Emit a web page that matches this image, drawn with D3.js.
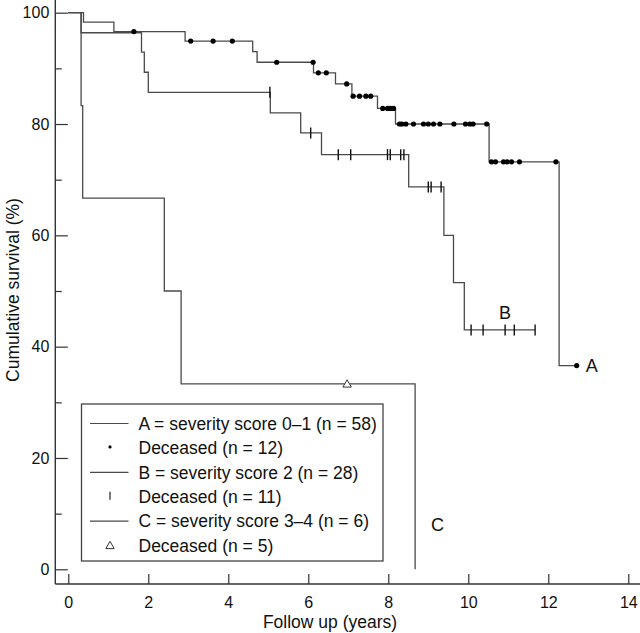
<!DOCTYPE html>
<html>
<head>
<meta charset="utf-8">
<script src="https://cdn.jsdelivr.net/npm/d3@7"></script>
<style>
  html, body { margin: 0; padding: 0; background: #fff; }
  svg { display: block; font-family: "Liberation Sans", Arial, Helvetica, sans-serif; }
</style>
</head>
<body>
<svg id="chart" width="640" height="633"></svg>
<script>
// ---- Data ----
// Group A: severity score 0-1
const timesA = [0, 0.38, 1.14, 2.92, 4.61, 4.72, 6.13, 6.68, 7.09, 7.73, 8.18, 10.52, 12.27];
const survA  = [100, 98.3, 96.6, 94.9, 93.0, 91.1, 89.2, 87.2, 85.0, 82.8, 80.0, 73.2, 36.6];
const endA = 12.71;
const censorA = [1.64, 3.06, 3.62, 4.1, 5.21, 6.12, 6.25, 6.45, 6.96, 7.12, 7.28, 7.44, 7.56,
  7.86, 7.98, 8.05, 8.13, 8.28, 8.34, 8.44, 8.63, 8.88, 9.0, 9.13, 9.29, 9.64, 9.93, 10.04,
  10.12, 10.46, 10.58, 10.68, 10.88, 10.97, 11.08, 11.28, 12.19, 12.71];

// Group B: severity score 2
const timesB = [0, 0.32, 1.83, 1.9, 2.0, 5.05, 5.81, 6.33, 8.51, 9.39, 9.63, 9.9];
const survB  = [100, 96.4, 92.9, 89.3, 85.7, 82.0, 78.4, 74.5, 68.7, 60.0, 51.5, 43.0];
const endB = 11.67;
const censorB = [5.04, 6.06, 6.75, 7.06, 7.98, 8.05, 8.31, 8.39, 9.0, 9.07, 9.32,
  10.07, 10.37, 10.92, 11.15, 11.67];

// Group C: severity score 3-4
const timesC = [0, 0.32, 0.36, 2.4, 2.82, 8.67];
const survC  = [100, 83.3, 66.7, 50.0, 33.3, 0];
const endC = 8.67;
const censorC = [6.97];

const xTicks = [0, 2, 4, 6, 8, 10, 12, 14];
const yTicksMajor = [0, 20, 40, 60, 80, 100];
const yTicksMinor = [10, 30, 50, 70, 90];

const legendLabels = [
  "A = severity score 0\u20131 (n = 58)",
  "Deceased (n = 12)",
  "B = severity score 2 (n = 28)",
  "Deceased (n = 11)",
  "C = severity score 3\u20134 (n = 6)",
  "Deceased (n = 5)"
];
const curveLabels = ["A", "B", "C"];

// ---- Layout ----
const svg = d3.select("#chart");
const x = d3.scaleLinear().domain([0, 14]).range([68.3, 628.3]);
const y = d3.scaleLinear().domain([0, 100]).range([569.3, 12.7]);
const axisX = 55.3, axisY = 584;
const lineColor = "#4a4a4a";
const axisColor = "#333";

// Axis lines
svg.append("line").attr("x1", axisX).attr("x2", axisX).attr("y1", 0).attr("y2", axisY)
  .attr("stroke", axisColor).attr("stroke-width", 1.4);
svg.append("line").attr("x1", axisX).attr("x2", 640).attr("y1", axisY).attr("y2", axisY)
  .attr("stroke", axisColor).attr("stroke-width", 1.4);

// X axis ticks (pointing up)
const gx = svg.append("g").attr("transform", `translate(0,${axisY})`)
  .call(d3.axisBottom(x).tickValues(xTicks).tickSize(-10).tickPadding(13).tickFormat(d3.format("d")));
gx.select(".domain").remove();
gx.selectAll(".tick line").attr("stroke", axisColor).attr("stroke-width", 1.2);
gx.selectAll(".tick text").attr("font-size", 16).attr("fill", "#111")
  .attr("font-family", "Liberation Sans, Arial, sans-serif");

// Y axis major ticks (pointing right)
const gy = svg.append("g").attr("transform", `translate(${axisX},0)`)
  .call(d3.axisLeft(y).tickValues(yTicksMajor).tickSize(-12.5).tickPadding(6).tickFormat(d3.format("d")));
gy.select(".domain").remove();
gy.selectAll(".tick line").attr("stroke", axisColor).attr("stroke-width", 1.2);
gy.selectAll(".tick text").attr("font-size", 16).attr("fill", "#111")
  .attr("font-family", "Liberation Sans, Arial, sans-serif");

// Y axis minor ticks
const gym = svg.append("g").attr("transform", `translate(${axisX},0)`)
  .call(d3.axisLeft(y).tickValues(yTicksMinor).tickSize(-6.5).tickFormat(""));
gym.select(".domain").remove();
gym.selectAll(".tick line").attr("stroke", axisColor).attr("stroke-width", 1.2);

// Axis titles
svg.append("text").attr("x", 330).attr("y", 628).attr("text-anchor", "middle")
  .attr("font-size", 17.5).attr("fill", "#111").text("Follow up (years)");
svg.append("text").attr("transform", "translate(19,290) rotate(-90)").attr("text-anchor", "middle")
  .attr("font-size", 17.5).attr("fill", "#111").text("Cumulative survival (%)");

// ---- Survival curves ----
function stepPoints(times, surv, end) {
  const pts = times.map((t, i) => [t, surv[i]]);
  pts.push([end, surv[surv.length - 1]]);
  return pts;
}
function survAt(times, surv, t) {
  let v = surv[0];
  for (let i = 0; i < times.length; i++) if (times[i] <= t) v = surv[i];
  return v;
}
const stepLine = d3.line().x(d => x(d[0])).y(d => y(d[1])).curve(d3.curveStepAfter);

const groups = [
  { times: timesC, surv: survC, end: endC, censor: censorC, mark: "tri" },
  { times: timesB, surv: survB, end: endB, censor: censorB, mark: "tick" },
  { times: timesA, surv: survA, end: endA, censor: censorA, mark: "dot" }
];

groups.forEach(g => {
  svg.append("path").datum(stepPoints(g.times, g.surv, g.end))
    .attr("d", stepLine).attr("fill", "none")
    .attr("stroke", lineColor).attr("stroke-width", 1.3);
});

function drawMark(sel, type, cx, cy) {
  if (type === "dot") {
    sel.append("circle").attr("cx", cx).attr("cy", cy).attr("r", 2.6).attr("fill", "#000");
  } else if (type === "tick") {
    sel.append("line").attr("x1", cx).attr("x2", cx).attr("y1", cy - 5.5).attr("y2", cy + 5.5)
      .attr("stroke", "#111").attr("stroke-width", 1.4);
  } else {
    const s = 4.2;
    sel.append("path")
      .attr("d", `M${cx},${cy - s} L${cx + s},${cy + s * 0.75} L${cx - s},${cy + s * 0.75} Z`)
      .attr("fill", "#fff").attr("stroke", "#333").attr("stroke-width", 1);
  }
}

groups.forEach(g => {
  const gm = svg.append("g");
  g.censor.forEach(t => {
    drawMark(gm, g.mark, x(t), y(survAt(g.times, g.surv, t)));
  });
});

// Curve labels
const labelPos = [
  { t: endA, v: survA[survA.length - 1], dx: 9, dy: 0 },
  { t: 10.92, v: survB[survB.length - 1], dx: 0, dy: -17 },
  { t: endC, v: 8, dx: 16, dy: 0 }
];
curveLabels.forEach((lab, i) => {
  const p = labelPos[i];
  svg.append("text").attr("x", x(p.t) + p.dx).attr("y", y(p.v) + p.dy)
    .attr("dy", "0.36em").attr("text-anchor", i === 1 ? "middle" : "start")
    .attr("font-size", 18).attr("fill", "#111").text(lab);
});

// ---- Legend ----
const lg = svg.append("g");
lg.append("rect").attr("x", 81.5).attr("y", 404).attr("width", 301.5).attr("height", 157)
  .attr("fill", "#fff").attr("stroke", "#444").attr("stroke-width", 1.3);
const rowY0 = 423.5, rowStep = 24.4;
const markTypes = ["dot", "tick", "tri"];
legendLabels.forEach((lab, i) => {
  const cy = rowY0 + i * rowStep;
  if (i % 2 === 0) {
    lg.append("line").attr("x1", 90).attr("x2", 128.5).attr("y1", cy).attr("y2", cy)
      .attr("stroke", lineColor).attr("stroke-width", 1.2);
  } else {
    const type = markTypes[(i - 1) / 2];
    if (type === "dot") lg.append("circle").attr("cx", 110).attr("cy", cy - 1).attr("r", 1.6).attr("fill", "#000");
    else if (type === "tick") lg.append("line").attr("x1", 110).attr("x2", 110).attr("y1", cy - 5).attr("y2", cy + 3)
      .attr("stroke", "#222").attr("stroke-width", 1.2);
    else drawMark(lg, "tri", 110, cy);
  }
  lg.append("text").attr("x", 138.5).attr("y", cy).attr("dy", "0.36em")
    .attr("font-size", 17.5).attr("fill", "#111").text(lab);
});
</script>
</body>
</html>
